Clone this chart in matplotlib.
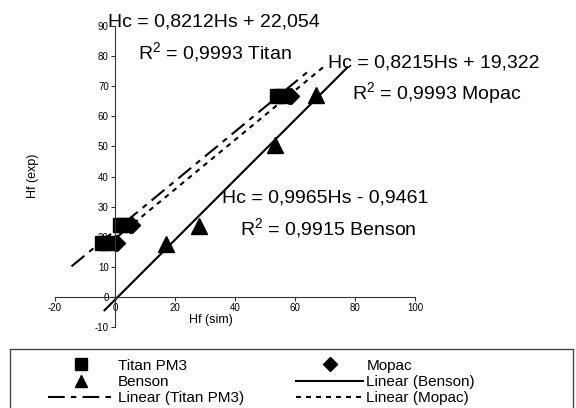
import numpy as np
import matplotlib.pyplot as plt
from matplotlib.patches import Rectangle

plt.rcParams['font.family'] = ['Liberation Sans', 'DejaVu Sans']
plt.rcParams['axes.unicode_minus'] = False
plt.rcParams['mathtext.fontset'] = 'custom'
plt.rcParams['mathtext.rm'] = 'Liberation Sans'
plt.rcParams['mathtext.it'] = 'Liberation Sans'

# scatter data
titan_x = [-4.5, -3, 1.5, 2.5, 54, 55.5]
titan_y = [18, 18, 24, 24, 66.8, 66.8]
mopac_x = [0, 0.5, 5, 5.5, 58, 58.5]
mopac_y = [18, 18, 24, 24, 66.8, 66.8]
benson_x = [17, 28, 53.3, 67]
benson_y = [17.5, 23.5, 50.5, 67]

# trendlines: slope, intercept, x range
titan_fit = [0.8212, 22.054]
mopac_fit = [0.8215, 19.322]
benson_fit = [0.9965, -0.9461]
titan_span = [-14.5, 65]
mopac_span = [-4, 70]
benson_span = [-3.5, 77.5]

fig = plt.figure(figsize=(5.76, 4.08), dpi=100)
ax = fig.add_axes([0.0955, 0.1985, 0.625, 0.7377])

def fitline(fit, span):
    xs = np.array(span)
    return xs, fit[0] * xs + fit[1]

xs, ys = fitline(benson_fit, benson_span)
l_benson, = ax.plot(xs, ys, color='black', lw=1.5)
xs, ys = fitline(titan_fit, titan_span)
l_titan, = ax.plot(xs, ys, color='black', lw=1.5, dashes=[8, 3, 2.6, 3])
xs, ys = fitline(mopac_fit, mopac_span)
l_mopac, = ax.plot(xs, ys, color='black', lw=1.5, dashes=[2.4, 2.4])

s_titan, = ax.plot(titan_x, titan_y, 's', color='black', ms=9.5, ls='none')
s_mopac, = ax.plot(mopac_x, mopac_y, 'D', color='black', ms=8, ls='none')
s_benson, = ax.plot(benson_x, benson_y, '^', color='black', ms=11, ls='none')

ax.set_xlim(-20, 100)
ax.set_ylim(-10, 90)
ax.spines['left'].set_position(('data', 0))
ax.spines['bottom'].set_position(('data', 0))
ax.spines['top'].set_visible(False)
ax.spines['right'].set_visible(False)
for sp in ['left', 'bottom']:
    ax.spines[sp].set_color('#333333')
ax.set_xticks(np.arange(-20, 101, 20))
ax.set_yticks(np.arange(-10, 91, 10))
ax.tick_params(direction='out', length=3, labelsize=7, pad=1.5, colors='#333333')
ax.tick_params(labelcolor='black')

tkw = dict(fontsize=14, va='center', ha='left')
ax.text(-2.3, 91.4, 'Hc = 0,8212Hs + 22,054', **tkw)
ax.text(7.7, 81.4, 'R$^2$ = 0,9993 Titan', **tkw)
ax.text(71, 77.7, 'Hc = 0,8215Hs + 19,322', **tkw)
ax.text(79, 67.8, 'R$^2$ = 0,9993 Mopac', **tkw)
ax.text(35.7, 33, 'Hc = 0,9965Hs - 0,9461', **tkw)
ax.text(41.7, 23, 'R$^2$ = 0,9915 Benson', **tkw)

fig.text(211/576, 1 - 320/408, 'Hf (sim)', fontsize=9, ha='center', va='center')
fig.text(33/576, 1 - 176/408, 'Hf (exp)', fontsize=9, ha='center', va='center', rotation=90)

fig.patches.append(Rectangle((10/576, -0.05), 563/576, (408 - 349)/408 + 0.05,
                             transform=fig.transFigure, fill=False, lw=1, ec='#444444'))

handles = [s_titan, s_benson, l_titan, s_mopac, l_benson, l_mopac]
labels = ['Titan PM3', 'Benson', 'Linear (Titan PM3)', 'Mopac', 'Linear (Benson)', 'Linear (Mopac)']
fig.legend(handles, labels, loc='upper left', bbox_to_anchor=(40/576, 1 - 351/408),
           frameon=False, borderpad=0, ncol=2, handlelength=4.4, handletextpad=0.2,
           columnspacing=3.4, labelspacing=0.15, fontsize=11, markerscale=0.85)

fig.savefig('out.png', dpi=100)
